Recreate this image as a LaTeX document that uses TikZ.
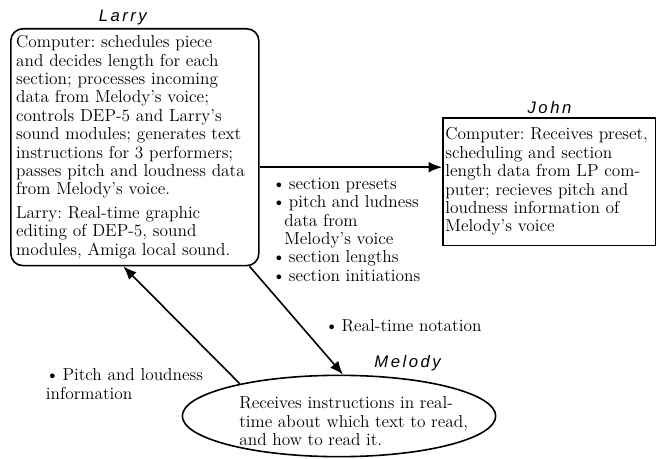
\documentclass[tikz,border=0pt]{standalone}
\usepackage{fontspec}
\newfontfamily\namefont[LetterSpace=15]{Liberation Sans}
\usepackage{tikz}
\usetikzlibrary{positioning,arrows.meta,shapes.geometric}

\begin{document}
\begin{tikzpicture}[x=0.75pt,y=-0.75pt,->,>={Latex[length=10pt,width=8pt]},
                    line width=1.2pt,font=\fontsize{13}{13.8}\selectfont\frenchspacing]
  \tikzstyle{every node}=[align=left]
  \tikzstyle{person}=[font=\namefont\itshape\fontsize{12.5}{14}\selectfont,inner sep=1pt]
  \tikzstyle{box}=[draw,anchor=north west,inner xsep=4pt,inner ysep=5pt]

  \useasboundingbox (0,0) rectangle (656,459);

  \node[box,rounded corners=9pt,text width=178pt] (L) at (10,28)
    {Computer: schedules piece\\
     and decides length for each\\
     section; processes incoming\\
     data from Melody's voice;\\
     controls DEP-5 and Larry's\\
     sound modules; generates text\\
     instructions for 3 performers;\\
     passes pitch and loudness data\\
     from Melody's voice.\\[4pt]
     Larry: Real-time graphic\\
     editing of DEP-5, sound\\
     modules, Amiga local sound.};
  \node[box,inner xsep=2pt,inner ysep=7.5pt,text width=156pt] (J) at (442,117)
    {Computer: Receives preset,\\
     scheduling and section\\
     length data from LP com-\\
     puter; recieves pitch and\\
     loudness information of\\
     Melody's voice};
  \node[draw,ellipse,minimum width=235pt,minimum height=61pt,
        inner xsep=-22pt,inner ysep=-15pt] (M) at (339,416)
    {\begin{tabular}{@{\hskip22pt}l@{}}
       \rule{0pt}{21pt}Receives instructions in real-\\
       time about which text to read,\\
       and how to read it.
     \end{tabular}};

  \node[person] (Lt) [above=1pt of L,xshift=-9pt] {Larry};
  \node[person] (Jt) [above=1pt of J] {John};
  \node[person] (Mt) [above right=1pt and 25pt of M.north] {Melody};

  \path ([yshift=-15pt]L.east) edge node[pos=0,anchor=north west,inner sep=0pt,
                                          xshift=9pt,yshift=-7.5pt] (P)
          {\textbullet\hspace{2.5pt}section presets\\
           \textbullet\hspace{2.5pt}pitch and ludness\\
           \hspace{9pt}data from\\
           \hspace{9pt}Melody's voice\\
           \textbullet\hspace{2.5pt}section lengths\\
           \textbullet\hspace{2.5pt}section initiations} ([yshift=-15pt]L.east -| J.west)
        ([xshift=-7.5pt]L.south east) edge node[pos=0.5,anchor=base west,inner sep=0pt,
                                          xshift=21pt,yshift=-8.6pt] (N)
          {\textbullet\hspace{2.5pt}Real-time notation} ([xshift=3pt]M.north)
        (M.162) edge node[pos=0,anchor=north west,inner sep=0pt,
                          xshift=-146pt,yshift=12pt] (I)
          {\textbullet\hspace{2.5pt}Pitch and loudness\\information} ([xshift=-8.6pt]L.south);
\end{tikzpicture}
\end{document}
